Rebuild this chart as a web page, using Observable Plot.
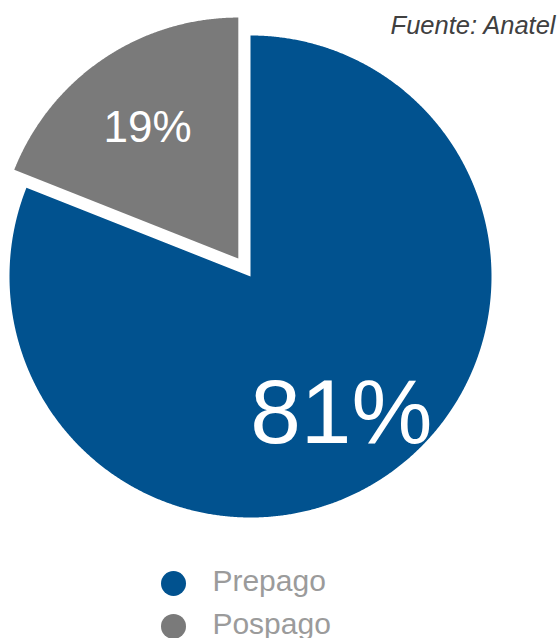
<!DOCTYPE html>
<html><head><meta charset="utf-8">
<script src="https://cdn.jsdelivr.net/npm/d3@7"></script>
<script src="https://cdn.jsdelivr.net/npm/@observablehq/plot@0.6"></script>
<style>body{margin:0;background:#fff}</style>
</head><body><div id="chart"></div>
<script>
const categories = ["Prepago", "Pospago"];
const values = [81, 19];
const labels = ["81%", "19%"];
const colors = ["#01528F", "#7A7A7A"];
const exploded = [false, true];
const source = "Fuente: Anatel";

const pie = d3.pie().sort(null).startAngle(0)(values);
const explode = 0.09, labelR = 0.67;
const slicePts = [], labelPts = [];
pie.forEach((s, i) => {
  const mid = (s.startAngle + s.endAngle) / 2;
  const ox = exploded[i] ? explode * Math.sin(mid) : 0;
  const oy = exploded[i] ? -explode * Math.cos(mid) : 0;
  slicePts.push({cat: categories[i], x: ox, y: oy});
  const n = Math.max(2, Math.ceil((s.endAngle - s.startAngle) / 0.005));
  for (let k = 0; k <= n; k++) {
    const a = s.startAngle + (s.endAngle - s.startAngle) * k / n;
    slicePts.push({cat: categories[i], x: ox + Math.sin(a), y: oy - Math.cos(a)});
  }
  labelPts.push({cat: categories[i], label: labels[i], x: ox + labelR * Math.sin(mid), y: oy - labelR * Math.cos(mid), big: i === 0});
});

const legend = categories.map((c, i) => ({cat: c, y: 1.274 + i * 0.178}));

const chart = Plot.plot({
  width: 560, height: 638,
  margin: 0,
  style: {fontFamily: "'Liberation Sans', Arial, sans-serif", background: "#fff"},
  x: {domain: [-1, 1], range: [9, 491], axis: null},
  y: {domain: [-1, 1], range: [35, 517], axis: null},
  color: {domain: categories, range: colors},
  marks: [
    Plot.line(slicePts, {x: "x", y: "y", z: "cat", fill: "cat", stroke: null, curve: "linear-closed"}),
    Plot.text(labelPts.filter(d => d.big), {x: "x", y: "y", text: "label", fill: "white", fontSize: 91, textAnchor: "middle", lineAnchor: "middle", dy: 4}),
    Plot.text(labelPts.filter(d => !d.big), {x: "x", y: "y", text: "label", fill: "white", fontSize: 44, textAnchor: "middle", lineAnchor: "middle", dy: 3}),
    Plot.dot(legend, {x: -0.3195, y: "y", fill: "cat", r: 12.5, stroke: null}),
    Plot.text(legend, {x: -0.158, y: "y", text: "cat", fill: "#9B9B9B", fontSize: 30, textAnchor: "start", lineAnchor: "middle", dy: -2.5}),
    Plot.text([source], {frameAnchor: "top-right", dx: -5, dy: 15, fontSize: 25.5, fontStyle: "italic", fill: "#404040"})
  ]
});
document.getElementById("chart").appendChild(chart);
</script>
</body></html>
